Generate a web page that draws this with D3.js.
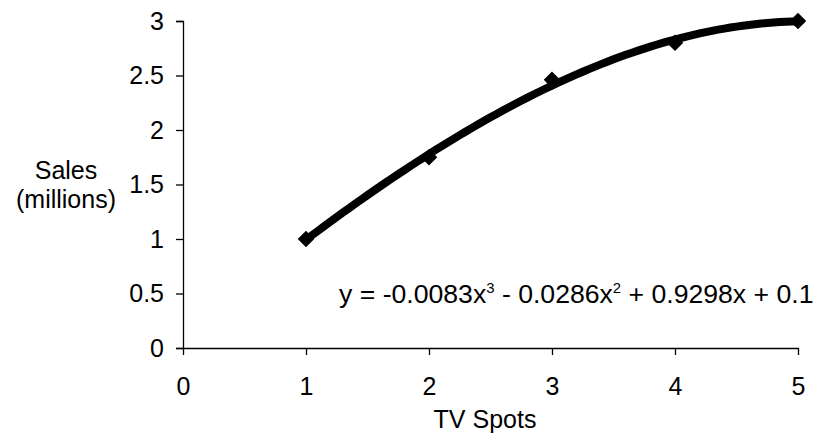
<!DOCTYPE html>
<html>
<head>
<meta charset="utf-8">
<script src="https://cdn.jsdelivr.net/npm/d3@7"></script>
<style>
  body { margin: 0; background: #fff; }
  text { font-family: "Liberation Sans", Arial, sans-serif; fill: #000; }
</style>
</head>
<body>
<div id="chart"></div>
<script>
// data
const tvSpots = [1, 2, 3, 4, 5];
const sales = [1.0, 1.75, 2.46, 2.8, 3.0];
// printed trendline coefficients, highest power first
const trendCoefs = [-0.0083, -0.0286, 0.9298, 0.1];
const xTicks = [0, 1, 2, 3, 4, 5];
const yTicks = [0, 0.5, 1, 1.5, 2, 2.5, 3];

const width = 819;
const height = 447;
const margin = { top: 21, right: 21, bottom: 99, left: 183 };
const fontSize = "25px";

const svg = d3.select("#chart")
  .append("svg")
  .attr("width", width)
  .attr("height", height);

const x = d3.scaleLinear()
  .domain([0, 5])
  .range([margin.left, width - margin.right]);

const y = d3.scaleLinear()
  .domain([0, 3])
  .range([height - margin.bottom, margin.top]);

// Y Axis
const yAxis = svg.append("g")
  .attr("transform", `translate(${margin.left},0)`)
  .call(d3.axisLeft(y).tickValues(yTicks).tickSize(7).tickPadding(12).tickFormat(d3.format("")));
yAxis.selectAll("text").style("font-size", fontSize);

// X Axis
const xAxis = svg.append("g")
  .attr("transform", `translate(0,${height - margin.bottom})`)
  .call(d3.axisBottom(x).tickValues(xTicks).tickSize(7).tickPadding(22).tickSizeOuter(0).tickFormat(d3.format("")));
xAxis.selectAll("text").style("font-size", fontSize);
svg.selectAll(".domain, .tick line").attr("stroke", "#000").attr("stroke-width", 1.3);

// Trendline
const poly = v => trendCoefs.reduce((acc, c) => acc * v + c, 0);
const trendX = d3.range(tvSpots[0], tvSpots[tvSpots.length - 1] + 0.001, 0.05);
svg.append("path")
  .datum(trendX)
  .attr("fill", "none")
  .attr("stroke", "#000")
  .attr("stroke-width", 8)
  .attr("stroke-linecap", "round")
  .attr("d", d3.line().x(d => x(d)).y(d => y(poly(d))));

// Points
svg.selectAll(".pt")
  .data(tvSpots.map((d, i) => [d, sales[i]]))
  .join("path")
  .attr("class", "pt")
  .attr("transform", d => `translate(${x(d[0])},${y(d[1])})`)
  .attr("d", d3.symbol(d3.symbolDiamond2, 120))
  .attr("fill", "#000")
  .attr("stroke", "#000")
  .attr("stroke-width", 2);

// X Axis Label
svg.append("text")
  .attr("x", 485)
  .attr("y", 428)
  .attr("text-anchor", "middle")
  .style("font-size", fontSize)
  .text("TV Spots");

// Y Axis Label
const yl = svg.append("text")
  .attr("text-anchor", "middle")
  .style("font-size", fontSize);
yl.append("tspan").attr("x", 66).attr("y", 179).text("Sales");
yl.append("tspan").attr("x", 66).attr("y", 208).text("(millions)");

// Equation (slightly wider type in the original)
const eq = svg.append("text")
  .attr("transform", "translate(339,303) scale(1.065,1)")
  .style("font-size", fontSize);
eq.append("tspan").text("y = -0.0083x");
eq.append("tspan").attr("dy", -10).style("font-size", "14px").text("3");
eq.append("tspan").attr("dy", 10).text(" - 0.0286x");
eq.append("tspan").attr("dy", -10).style("font-size", "14px").text("2");
eq.append("tspan").attr("dy", 10).text(" + 0.9298x + 0.1");
</script>
</body>
</html>
